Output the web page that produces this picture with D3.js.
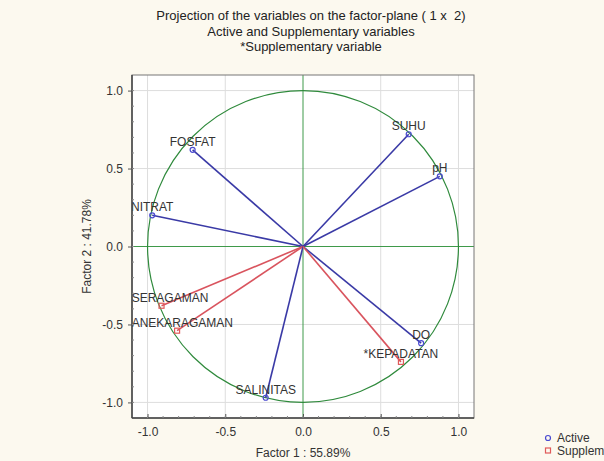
<!DOCTYPE html>
<html>
<head>
<meta charset="utf-8">
<script src="https://cdn.jsdelivr.net/npm/d3@7"></script>
<style>
body { margin: 0; background: #fcf9ef; }
svg { display: block; font-family: Arial, "Liberation Sans", sans-serif; }
</style>
</head>
<body>
<svg id="chart" width="604" height="461"></svg>
<script>
// variables on the factor plane
var names = ["SUHU", "pH", "FOSFAT", "NITRAT", "*SERAGAMAN", "*ANEKARAGAMAN", "SALINITAS", "DO", "*KEPADATAN"];
var factor1 = [0.68, 0.88, -0.71, -0.97, -0.91, -0.81, -0.24, 0.76, 0.63];
var factor2 = [0.72, 0.45, 0.62, 0.20, -0.38, -0.54, -0.97, -0.62, -0.74];
var supplementary = [false, false, false, false, true, true, false, false, true];
var tickValues = [-1.0, -0.5, 0.0, 0.5, 1.0];
var titleLines = ["Projection of the variables on the factor-plane ( 1 x  2)",
                  "Active and Supplementary variables",
                  "*Supplementary variable"];

var svg = d3.select("#chart");

var pLeft = 132, pRight = 474, pTop = 75, pBottom = 418;

var x = d3.scaleLinear().domain([-1.1, 1.1]).range([pLeft, pRight]);
var y = d3.scaleLinear().domain([-1.1, 1.1]).range([pBottom, pTop]);

var data = names.map(function(n, i) {
    return { name: n, f1: factor1[i], f2: factor2[i], supp: supplementary[i] };
});

// title
svg.selectAll(".title")
    .data(titleLines)
    .enter().append("text")
    .attr("class", "title")
    .attr("x", 311)
    .attr("y", function(d, i) { return 20 + i * 15.5; })
    .attr("text-anchor", "middle")
    .style("font-size", "13px")
    .style("white-space", "pre")
    .style("fill", "#222")
    .text(function(d) { return d; });

// plot background
svg.append("rect")
    .attr("x", pLeft).attr("y", pTop)
    .attr("width", pRight - pLeft).attr("height", pBottom - pTop)
    .style("fill", "white");

svg.append("clipPath").attr("id", "clip")
    .append("rect")
    .attr("x", pLeft).attr("y", pTop)
    .attr("width", pRight - pLeft).attr("height", pBottom - pTop);

var plot = svg.append("g").attr("clip-path", "url(#clip)");

// grid
var gridVals = tickValues.filter(function(d) { return d !== 0; });

plot.selectAll(".vgrid")
    .data(gridVals)
    .enter().append("line")
    .attr("x1", function(d) { return x(d); })
    .attr("x2", function(d) { return x(d); })
    .attr("y1", pTop).attr("y2", pBottom)
    .style("stroke", "#dddddd");

plot.selectAll(".hgrid")
    .data(gridVals)
    .enter().append("line")
    .attr("y1", function(d) { return y(d); })
    .attr("y2", function(d) { return y(d); })
    .attr("x1", pLeft).attr("x2", pRight)
    .style("stroke", "#dddddd");

// zero lines
plot.append("line")
    .attr("x1", x(0)).attr("x2", x(0)).attr("y1", pTop).attr("y2", pBottom)
    .style("stroke", "#3f9a4a");
plot.append("line")
    .attr("y1", y(0)).attr("y2", y(0)).attr("x1", pLeft).attr("x2", pRight)
    .style("stroke", "#3f9a4a");

// unit circle
plot.append("ellipse")
    .attr("cx", x(0)).attr("cy", y(0))
    .attr("rx", x(1) - x(0)).attr("ry", y(0) - y(1))
    .style("fill", "none")
    .style("stroke", "#2f8a3c")
    .style("stroke-width", 1.2);

// vectors
plot.selectAll(".vec")
    .data(data)
    .enter().append("line")
    .attr("class", "vec")
    .attr("x1", x(0)).attr("y1", y(0))
    .attr("x2", function(d) { return x(d.f1); })
    .attr("y2", function(d) { return y(d.f2); })
    .style("stroke", function(d) { return d.supp ? "#d9545e" : "#3a3aa6"; })
    .style("stroke-width", 1.6);

// markers
plot.selectAll(".dot")
    .data(data.filter(function(d) { return !d.supp; }))
    .enter().append("circle")
    .attr("cx", function(d) { return x(d.f1); })
    .attr("cy", function(d) { return y(d.f2); })
    .attr("r", 2.5)
    .style("fill", "none")
    .style("stroke", "#4a4ad0")
    .style("stroke-width", 1.2);

plot.selectAll(".sq")
    .data(data.filter(function(d) { return d.supp; }))
    .enter().append("rect")
    .attr("x", function(d) { return x(d.f1) - 2.5; })
    .attr("y", function(d) { return y(d.f2) - 2.5; })
    .attr("width", 5).attr("height", 5)
    .style("fill", "none")
    .style("stroke", "#e05a5a")
    .style("stroke-width", 1.2);

// labels, pushed right when they run far past the left edge
plot.selectAll(".lbl")
    .data(data)
    .enter().append("text")
    .attr("y", function(d) { return y(d.f2) - 4; })
    .style("font-size", "12px")
    .style("fill", "#333")
    .text(function(d) { return d.name; })
    .attr("x", function(d) {
        var w = this.getComputedTextLength();
        return Math.max(x(d.f1) - w / 2, pLeft - 5);
    });

// frame
svg.append("rect")
    .attr("x", pLeft).attr("y", pTop)
    .attr("width", pRight - pLeft).attr("height", pBottom - pTop)
    .style("fill", "none")
    .style("stroke", "#777")
    .style("stroke-width", 1);
svg.append("line")
    .attr("x1", pLeft).attr("x2", pLeft).attr("y1", pTop).attr("y2", pBottom)
    .style("stroke", "#444").style("stroke-width", 1.5);
svg.append("line")
    .attr("x1", pLeft).attr("x2", pRight).attr("y1", pBottom).attr("y2", pBottom)
    .style("stroke", "#444").style("stroke-width", 1.5);

// axes
var fmt = function(d) { return d.toFixed(1); };
var xAxis = d3.axisBottom(x).tickValues(tickValues).tickSize(-4).tickPadding(9).tickFormat(fmt);
var yAxis = d3.axisLeft(y).tickValues(tickValues).tickSize(4).tickPadding(5).tickFormat(fmt);

var gx = svg.append("g").attr("transform", "translate(0," + pBottom + ")").call(xAxis);
var gy = svg.append("g").attr("transform", "translate(" + pLeft + ",0)").call(yAxis);

[gx, gy].forEach(function(g) {
    g.select(".domain").remove();
    g.selectAll("line").style("stroke", "#555");
    g.selectAll("text").style("font-size", "12px").style("fill", "#333")
        .style("font-family", "Arial, 'Liberation Sans', sans-serif");
});

// minor ticks on the axes
var minor = d3.range(-10, 11).map(function(d) { return d / 10; });
svg.selectAll(".mx")
    .data(minor)
    .enter().append("line")
    .attr("x1", function(d) { return x(d); }).attr("x2", function(d) { return x(d); })
    .attr("y1", pBottom).attr("y2", pBottom - 2)
    .style("stroke", "#888");
svg.selectAll(".my")
    .data(minor)
    .enter().append("line")
    .attr("y1", function(d) { return y(d); }).attr("y2", function(d) { return y(d); })
    .attr("x1", pLeft).attr("x2", pLeft + 2)
    .style("stroke", "#888");

// axis titles
svg.append("text")
    .attr("x", x(0)).attr("y", 457)
    .attr("text-anchor", "middle")
    .style("font-size", "12px").style("fill", "#333")
    .text("Factor 1 : 55.89%");

svg.append("text")
    .attr("transform", "translate(91," + y(0) + ") rotate(-90)")
    .attr("text-anchor", "middle")
    .style("font-size", "12px").style("fill", "#333")
    .text("Factor 2 : 41.78%");

// legend
var legend = svg.append("g");
legend.append("circle")
    .attr("cx", 548).attr("cy", 438).attr("r", 2.5)
    .style("fill", "none").style("stroke", "#4a4ad0").style("stroke-width", 1.2);
legend.append("text")
    .attr("x", 557).attr("y", 442)
    .style("font-size", "12px").style("fill", "#333")
    .text("Active");
legend.append("rect")
    .attr("x", 545.5).attr("y", 448).attr("width", 5).attr("height", 5)
    .style("fill", "none").style("stroke", "#e05a5a").style("stroke-width", 1.2);
legend.append("text")
    .attr("x", 557).attr("y", 455)
    .style("font-size", "12px").style("fill", "#333")
    .text("Supplementary");
</script>
</body>
</html>
